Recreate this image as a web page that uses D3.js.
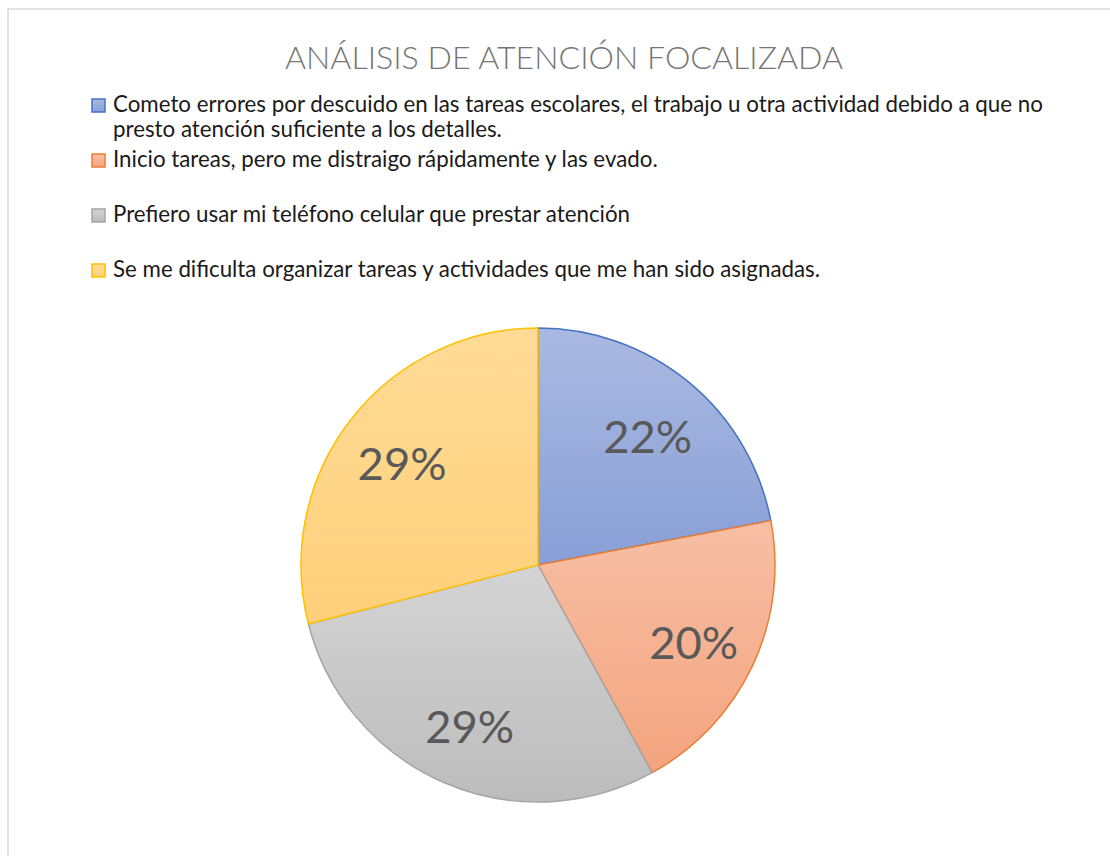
<!DOCTYPE html>
<html>
<head>
<meta charset="utf-8">
<script src="https://cdn.jsdelivr.net/npm/d3@7"></script>
<style>
  html, body { margin: 0; padding: 0; background: #fff; }
  svg { display: block; font-family: Lato, "Open Sans", sans-serif; }
</style>
</head>
<body>
<div id="chart"></div>
<script>
  var title = 'ANÁLISIS DE ATENCIÓN FOCALIZADA';
  var categories = [
    'Cometo errores por descuido en las tareas escolares, el trabajo u otra actividad debido a que no presto atención suficiente a los detalles.',
    'Inicio tareas, pero me distraigo rápidamente y las evado.',
    'Prefiero usar mi teléfono celular que prestar atención',
    'Se me dificulta organizar tareas y actividades que me han sido asignadas.'
  ];
  var values = [22, 20, 29, 29];
  var strokeColors = ['#4472C4', '#ED7D31', '#A5A5A5', '#FFC000'];
  var topColors = ['#AAB9E1', '#F7BFA5', '#D4D4D4', '#FFDB97'];
  var bottomColors = ['#889FD6', '#F4A47F', '#BCBCBC', '#FFD07A'];

  var width = 1110;
  var height = 856;
  var cx = 538;
  var cy = 565;
  var radius = 237;
  var labelRadius = 172;

  var svg = d3.select('#chart')
    .append('svg')
    .attr('width', width)
    .attr('height', height);

  // gradients per slice (top light -> bottom dark)
  var defs = svg.append('defs');
  categories.forEach(function(c, i) {
    var g = defs.append('linearGradient')
      .attr('id', 'grad' + i)
      .attr('x1', 0).attr('y1', 0).attr('x2', 0).attr('y2', 1);
    g.append('stop').attr('offset', '0%').attr('stop-color', topColors[i]);
    g.append('stop').attr('offset', '100%').attr('stop-color', bottomColors[i]);
  });

  // chart frame
  svg.append('rect')
    .attr('x', 8).attr('y', 9)
    .attr('width', 1130).attr('height', 880)
    .attr('fill', 'none')
    .attr('stroke', '#D9D9D9')
    .attr('stroke-width', 1.5);

  // fit a text element's font size to a target width
  function fit(sel, target) {
    var w = sel.node().getComputedTextLength();
    var fs = parseFloat(sel.attr('font-size'));
    sel.attr('font-size', fs * target / w);
    return fs * target / w;
  }

  var titleText = svg.append('text')
    .attr('x', 564).attr('y', 69)
    .attr('text-anchor', 'middle')
    .attr('font-size', 30)
    .attr('font-weight', 300)
    .attr('fill', '#767676')
    .text(title);
  fit(titleText, 558);

  // legend
  var probe = svg.append('text').attr('font-size', 20).text(categories[1]);
  var legendSize = fit(probe, 545);
  probe.remove();

  var legendX = 113;
  var maxLine = 935;
  var legendRows = [112, 167, 222, 277];
  var lineGap = 25;

  var legend = svg.append('g');
  categories.forEach(function(label, i) {
    var row = legend.append('g');
    row.append('rect')
      .attr('x', 92).attr('y', legendRows[i] - 13)
      .attr('width', 13).attr('height', 13)
      .attr('fill', 'url(#grad' + i + ')')
      .attr('stroke', strokeColors[i])
      .attr('stroke-width', 1.5);

    var t = row.append('text')
      .attr('x', legendX).attr('y', legendRows[i])
      .attr('font-size', legendSize)
      .attr('fill', '#1A1A1A');
    var words = label.split(' ');
    var line = [];
    var lineNo = 0;
    var tspan = t.append('tspan').attr('x', legendX).attr('y', legendRows[i]);
    words.forEach(function(w) {
      line.push(w);
      tspan.text(line.join(' '));
      if (tspan.node().getComputedTextLength() > maxLine && line.length > 1) {
        line.pop();
        tspan.text(line.join(' '));
        line = [w];
        lineNo++;
        tspan = t.append('tspan')
          .attr('x', legendX)
          .attr('y', legendRows[i] + lineNo * lineGap)
          .text(w);
      }
    });
  });

  // pie
  var pie = d3.pie().sort(null).value(function(d) { return d; });
  var arc = d3.arc().innerRadius(0).outerRadius(radius);
  var labelArc = d3.arc().innerRadius(labelRadius).outerRadius(labelRadius);
  var arcs = pie(values);
  var total = d3.sum(values);

  var plot = svg.append('g').attr('transform', 'translate(' + cx + ',' + cy + ')');

  plot.selectAll('path.slice')
    .data(arcs)
    .enter()
    .append('path')
    .attr('class', 'slice')
    .attr('d', arc)
    .attr('fill', function(d, i) { return 'url(#grad' + i + ')'; })
    .attr('stroke', function(d, i) { return strokeColors[i]; })
    .attr('stroke-width', 1.5)
    .attr('stroke-linejoin', 'round');

  var labels = plot.selectAll('text.lbl')
    .data(arcs)
    .enter()
    .append('text')
    .attr('class', 'lbl')
    .attr('text-anchor', 'middle')
    .attr('dominant-baseline', 'central')
    .attr('dy', 3)
    .attr('font-size', 48)
    .attr('fill', '#595959')
    .attr('transform', function(d) { return 'translate(' + labelArc.centroid(d) + ')'; })
    .text(function(d) { return Math.round(d.value / total * 100) + '%'; });
  var lblSize = fit(d3.select(labels.nodes()[0]), 89);
  labels.attr('font-size', lblSize);
</script>
</body>
</html>
